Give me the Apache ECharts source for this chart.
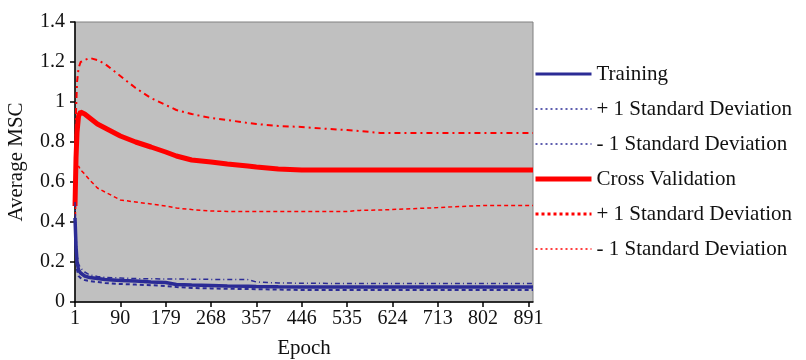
<!DOCTYPE html>
<html>
<head>
<meta charset="utf-8">
<script src="https://cdn.jsdelivr.net/npm/echarts@6/dist/echarts.min.js"></script>
<style>
html,body{margin:0;padding:0;background:#fff;}
#chart{width:806px;height:360px;}
</style>
</head>
<body>
<div id="chart"></div>
<script>
// ---- data ----
const epochs = [1, 3, 5, 8, 12, 20, 30, 45, 60, 90, 120, 150, 179, 200, 230, 268, 300, 340, 357, 400, 446, 500, 535, 560, 600, 650, 713, 760, 802, 850, 900];
const training      = [0.42, 0.28, 0.20, 0.16, 0.145, 0.13, 0.122, 0.118, 0.112, 0.108, 0.105, 0.100, 0.097, 0.088, 0.085, 0.083, 0.080, 0.079, 0.078, 0.076, 0.075, 0.075, 0.075, 0.075, 0.075, 0.075, 0.075, 0.075, 0.075, 0.075, 0.075];
const trainingPlus  = [0.50, 0.33, 0.24, 0.19, 0.17, 0.15, 0.135, 0.128, 0.123, 0.120, 0.117, 0.116, 0.115, 0.115, 0.114, 0.113, 0.113, 0.112, 0.100, 0.095, 0.094, 0.093, 0.093, 0.093, 0.093, 0.093, 0.093, 0.093, 0.093, 0.093, 0.093];
const trainingMinus = [0.34, 0.23, 0.16, 0.13, 0.12, 0.11, 0.105, 0.100, 0.095, 0.090, 0.087, 0.084, 0.080, 0.075, 0.070, 0.068, 0.066, 0.065, 0.064, 0.062, 0.060, 0.060, 0.060, 0.060, 0.060, 0.060, 0.060, 0.060, 0.060, 0.060, 0.060];
const crossVal      = [0.48, 0.72, 0.85, 0.93, 0.95, 0.94, 0.92, 0.89, 0.87, 0.83, 0.80, 0.775, 0.75, 0.73, 0.71, 0.70, 0.69, 0.68, 0.675, 0.665, 0.66, 0.66, 0.66, 0.66, 0.66, 0.66, 0.66, 0.66, 0.66, 0.66, 0.66];
const crossValPlus  = [0.62, 0.95, 1.10, 1.17, 1.20, 1.21, 1.22, 1.21, 1.19, 1.13, 1.07, 1.02, 0.985, 0.96, 0.94, 0.92, 0.91, 0.895, 0.89, 0.88, 0.875, 0.865, 0.86, 0.855, 0.845, 0.845, 0.845, 0.845, 0.845, 0.845, 0.845];
const crossValMinus = [0.36, 0.55, 0.66, 0.68, 0.66, 0.64, 0.61, 0.57, 0.55, 0.51, 0.50, 0.49, 0.48, 0.47, 0.462, 0.455, 0.453, 0.453, 0.453, 0.453, 0.453, 0.453, 0.453, 0.458, 0.46, 0.465, 0.472, 0.478, 0.482, 0.482, 0.482];
const xTickLabels = [1, 90, 179, 268, 357, 446, 535, 624, 713, 802, 891];
const yTickLabels = [0, 0.2, 0.4, 0.6, 0.8, 1, 1.2, 1.4];
const legendNames = {
  tr: 'Training',
  trP: '+ 1 Standard Deviation',
  trM: '- 1 Standard Deviation',
  cv: 'Cross Validation',
  cvP: '+ 1 Standard Deviation',
  cvM: '- 1 Standard Deviation'
};

const pair = vals => epochs.map((e, i) => [e, vals[i]]);
const BLUE = '#2b2b95';
const RED = '#ff0000';
const SERIF = '"Liberation Serif", "DejaVu Serif", serif';

const styles = {
  cvP: { color: RED, width: 2, type: [6, 4, 2, 4] },
  cvM: { color: RED, width: 1.5, type: [4, 3] },
  cv:  { color: RED, width: 5, type: 'solid' },
  trP: { color: BLUE, width: 1.5, type: [5, 3, 1, 3] },
  trM: { color: BLUE, width: 2, type: [4, 3] },
  tr:  { color: BLUE, width: 3.5, type: 'solid' }
};
const legendStyles = {
  tr:  { color: BLUE, width: 3, type: 'solid' },
  trP: { color: BLUE, width: 1.5, type: [2, 3] },
  trM: { color: BLUE, width: 1.5, type: [2, 3] },
  cv:  { color: RED, width: 5, type: 'solid' },
  cvP: { color: RED, width: 3, type: [3, 3] },
  cvM: { color: RED, width: 1.5, type: [2, 3] }
};

function line(id, vals, z) {
  return {
    id: id, name: id, type: 'line', data: pair(vals), symbol: 'none', showSymbol: false,
    lineStyle: styles[id],
    itemStyle: { color: styles[id].color }, z: z, animation: false
  };
}

const chart = echarts.init(document.getElementById('chart'), null, { renderer: 'canvas' });
chart.setOption({
  animation: false,
  backgroundColor: '#ffffff',
  grid: {
    left: 75, right: 273, top: 22, bottom: 58,
    outerBoundsMode: 'none', containLabel: false,
    show: true, backgroundColor: '#c0c0c0', borderColor: '#808080', borderWidth: 1
  },
  xAxis: {
    type: 'value', min: 1, max: 900,
    name: 'Epoch', nameLocation: 'middle', nameGap: 36,
    nameTextStyle: { fontFamily: SERIF, fontSize: 21, color: '#111' },
    axisLine: { show: true, lineStyle: { color: '#000', width: 1.5 } },
    axisTick: { show: true, customValues: xTickLabels, length: 5, lineStyle: { color: '#000', width: 1.5 } },
    axisLabel: { customValues: xTickLabels, fontFamily: SERIF, fontSize: 20, color: '#111', margin: 7 },
    splitLine: { show: false }
  },
  yAxis: {
    type: 'value', min: 0, max: 1.4, interval: 0.2,
    name: 'Average MSC', nameLocation: 'middle', nameGap: 48, nameRotate: 90,
    nameTextStyle: { fontFamily: SERIF, fontSize: 21, color: '#111' },
    axisLine: { show: true, lineStyle: { color: '#000', width: 1.5 } },
    axisTick: { show: true, length: 5, lineStyle: { color: '#000', width: 1.5 } },
    axisLabel: { fontFamily: SERIF, fontSize: 20, color: '#111', margin: 10,
      formatter: v => String(yTickLabels.find(t => Math.abs(t - v) < 1e-6) ?? v) },
    splitLine: { show: false }
  },
  legend: {
    orient: 'vertical', left: 533, top: 62, padding: 0,
    itemWidth: 56, itemHeight: 14, itemGap: 11,
    itemStyle: { opacity: 0 },
    textStyle: { fontFamily: SERIF, fontSize: 21, color: '#111', lineHeight: 24 },
    formatter: n => legendNames[n],
    data: ['tr', 'trP', 'trM', 'cv', 'cvP', 'cvM'].map(n => ({ name: n, lineStyle: legendStyles[n] }))
  },
  series: [
    line('cvP', crossValPlus, 3),
    line('cvM', crossValMinus, 3),
    line('cv', crossVal, 4),
    line('trP', trainingPlus, 5),
    line('trM', trainingMinus, 5),
    line('tr', training, 6)
  ]
});
</script>
</body>
</html>
